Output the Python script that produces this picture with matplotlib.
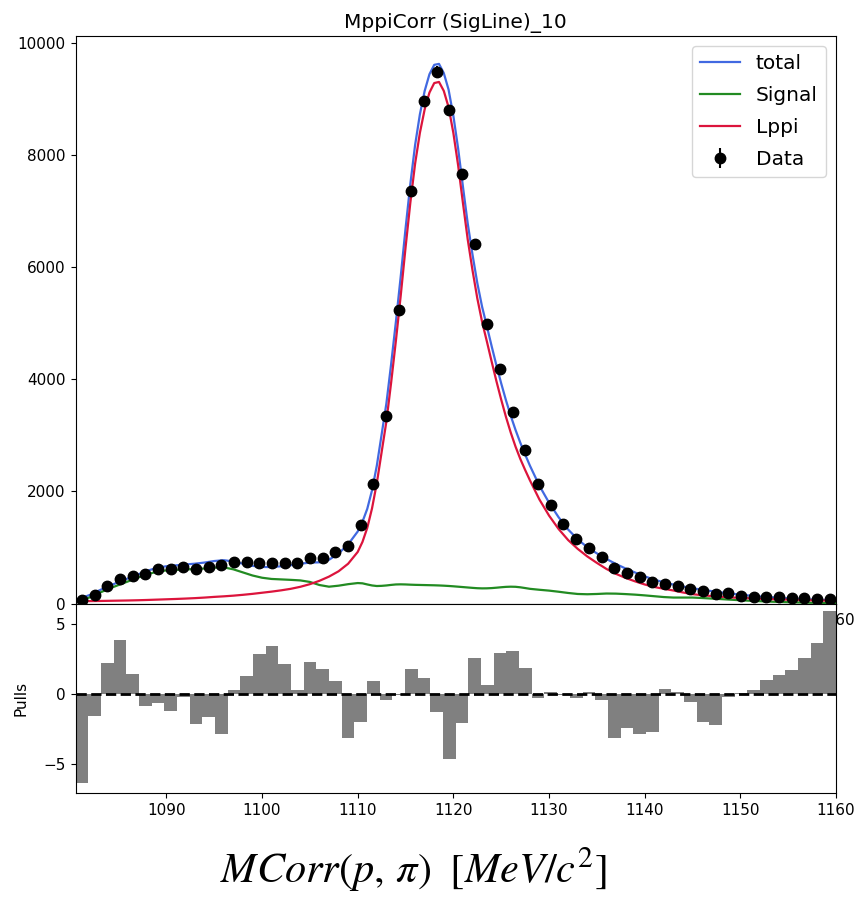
import numpy as np
import matplotlib
matplotlib.use("Agg")
import matplotlib.pyplot as plt

plt.rcParams["mathtext.fontset"] = "stix"

# Histogram binning for MppiCorr
bin_lo, bin_hi, n_bins = 1080.5, 1160.0, 60

# Event counts per bin
counts = [62, 157, 312, 437, 491, 527, 622, 622, 657, 622,
          657, 681, 741, 741, 717, 717, 717, 717, 812, 812,
          919, 1026, 1401, 2127, 3347, 5239, 7364, 8970, 9493, 8809,
          7667, 6417, 4989, 4186, 3418, 2740, 2127, 1758, 1425, 1157,
          991, 835, 639, 550, 467, 378, 348, 312, 264, 229,
          175, 182, 139, 121, 121, 121, 104, 104, 86, 75]

# Fit pulls per bin
pulls = [-6.31, -1.60, 2.21, 3.88, 1.43, -0.83, -0.67, -1.19, -0.20, -2.12,
         -1.67, -2.83, 0.29, 1.26, 2.86, 3.45, 2.14, 0.26, 2.31, 1.79,
         0.93, -3.10, -2.02, 0.93, -0.40, -0.05, 1.79, 1.17, -1.26, -4.60,
         -2.05, 2.57, 0.64, 2.93, 3.10, 1.86, -0.31, 0.17, -0.10, -0.31,
         0.17, -0.40, -3.12, -2.43, -2.86, -2.69, 0.36, 0.12, -0.57, -2.00,
         -2.24, -0.20, 0.10, 0.26, 1.00, 1.33, 1.69, 2.55, 3.64, 5.90]

# Fit model components sampled on a mass grid
curve_x = np.concatenate([[1080.5],
                          np.arange(1081.0, 1110.5, 1.0),
                          np.arange(1110.5, 1128.25, 0.5),
                          np.arange(1129.0, 1160.5, 1.0)])

signal_y = [30,
            50, 110, 190, 265, 330, 395, 460, 520, 568, 590,
            600, 608, 615, 625, 640, 645, 610, 555, 500, 460,
            438, 430, 422, 412, 385, 330, 300, 318, 345, 365,
            360, 340, 322, 312, 315, 322, 332, 340, 342, 340,
            336, 333, 331, 329, 327, 325, 322, 318, 313, 307,
            300, 293, 286, 279, 273, 270, 271, 275, 282, 290,
            297, 300, 298, 289, 276, 262,
            245, 230, 210, 188, 170, 165, 170, 178, 176, 168,
            158, 145, 130, 115, 106, 106, 106, 98, 88, 78,
            68, 58, 49, 41, 34, 28, 23, 19, 15, 12, 10, 8]

lppi_y = [40,
          41, 43, 45, 48, 51, 54, 58, 63, 69, 75,
          81, 88, 96, 106, 118, 128, 140, 155, 172, 192,
          212, 235, 262, 298, 345, 405, 480, 575, 710, 920,
          1100, 1350, 1700, 2150, 2700, 3250, 3950, 4700, 5500, 6350,
          7150, 7850, 8400, 8820, 9120, 9290, 9310, 9150, 8860, 8400,
          7820, 7150, 6500, 5950, 5450, 5030, 4680, 4320, 3970, 3640,
          3330, 3050, 2800, 2580, 2385, 2200,
          1855, 1570, 1330, 1132, 975, 840, 725, 617, 529, 457,
          395, 340, 295, 263, 232, 197, 167, 148, 133, 120,
          109, 100, 92, 85, 79, 73, 68, 63, 59, 55, 51, 48]

edges = np.linspace(bin_lo, bin_hi, n_bins + 1)
centers = 0.5 * (edges[:-1] + edges[1:])
width = edges[1] - edges[0]

signal_arr = np.asarray(signal_y, dtype=float)
lppi_arr = np.asarray(lppi_y, dtype=float)
total_arr = signal_arr + lppi_arr
counts_arr = np.asarray(counts, dtype=float)

W, H = 858, 897
fig = plt.figure(figsize=(W / 100, H / 100), dpi=100)
left, right = 75.5, 836.0
top, mid, bottom = 36.0, 603.5, 793.0
ax = fig.add_axes([left / W, 1 - mid / H, (right - left) / W, (mid - top) / H])
axp = fig.add_axes([left / W, 1 - bottom / H, (right - left) / W, (bottom - mid) / H])

ax.plot(curve_x, total_arr, color="royalblue", lw=1.6, label="total")
ax.plot(curve_x, signal_arr, color="forestgreen", lw=1.6, label="Signal")
ax.plot(curve_x, lppi_arr, color="crimson", lw=1.6, label="Lppi")
ax.errorbar(centers, counts_arr, yerr=np.sqrt(counts_arr), fmt="o",
            color="black", ms=7.5, elinewidth=1.5, label="Data")
ax.set_xlim(bin_lo, bin_hi)
ax.set_ylim(0, 10130)
ax.set_yticks([0, 2000, 4000, 6000, 8000, 10000])
ax.set_title("MppiCorr (SigLine)_10", fontsize=14.5)
ax.legend(loc="upper right", fontsize=14.5, labelspacing=0.65)
ax.tick_params(labelsize=11)

axp.bar(centers, pulls, width=width, color="grey")
axp.axhline(0, color="black", ls="--", lw=2)
axp.set_xlim(bin_lo, bin_hi)
axp.set_ylim(-7.05, 6.45)
axp.set_yticks([-5, 0, 5])
axp.set_ylabel("Pulls", fontsize=11, labelpad=11)
axp.tick_params(labelsize=11)

fig.text(413 / W, 1 - 870 / H, r"$MCorr(p,\,\pi)\;\ [MeV/c^2]$",
         fontsize=30.5, ha="center", va="center")

fig.savefig("out.png", dpi=100)
